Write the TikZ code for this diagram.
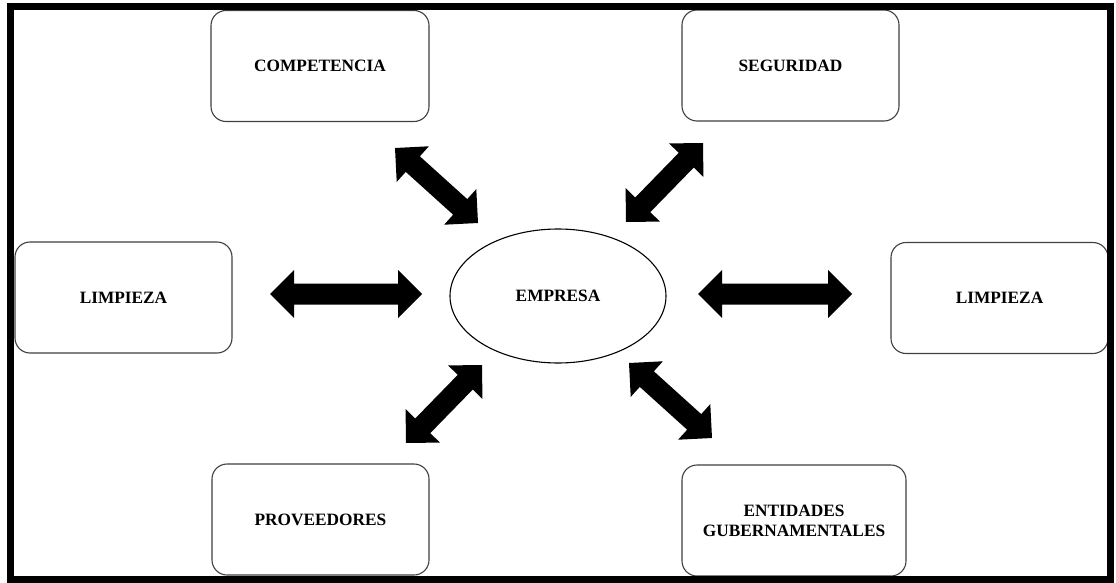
\documentclass[tikz,border=0pt]{standalone}
\usepackage{fontspec}
\setmainfont{Liberation Serif}
\usetikzlibrary{calc,shapes.geometric}

% Filled double-headed block arrow between two named coordinates
\newcommand{\blockarrow}[2]{%
  \coordinate (hA) at ($(#1)!24pt!(#2)$);
  \coordinate (hB) at ($(#2)!24pt!(#1)$);
  \fill[black]
    (#1) -- ($(hA)!24pt!90:(#2)$) -- ($(hA)!10.5pt!90:(#2)$)
    -- ($(hB)!10.5pt!-90:(#1)$) -- ($(hB)!24pt!-90:(#1)$)
    -- (#2) -- ($(hB)!24pt!90:(#1)$) -- ($(hB)!10.5pt!90:(#1)$)
    -- ($(hA)!10.5pt!-90:(#2)$) -- ($(hA)!24pt!-90:(#2)$) -- cycle;
}

\begin{document}
\begin{tikzpicture}[x=1pt,y=-1pt,
  font=\fontsize{17.3}{20}\selectfont\bfseries,
  actor/.style={draw=black!75, line width=1.1pt, rounded corners=15pt,
    fill=white, minimum height=111pt, inner sep=0pt, align=center},
  core/.style={ellipse, draw=black, line width=1.1pt, minimum width=216pt,
    minimum height=134pt, inner sep=0pt},
  frame/.style={draw=black, line width=7pt}]

\useasboundingbox (0,0) rectangle (1116,583);
\fill[white] (0,0) rectangle (1116,583);

% Central ellipse
\node[core] (emp) at (558,296) {EMPRESA};

% Surrounding boxes
\node[actor, minimum width=218pt] (comp) at (320,66) {COMPETENCIA};
\node[actor, minimum width=217pt] (seg)  at (790.5,65.5) {SEGURIDAD};
\node[actor, minimum width=217pt] (limL) at (123.5,297.5) {LIMPIEZA};
\node[actor, minimum width=217pt] (limR) at (999.5,298) {LIMPIEZA};
\node[actor, minimum width=217pt] (prov) at (320.5,519.5) {PROVEEDORES};
\node[actor, minimum width=224pt] (ent)  at (794,520.5) {ENTIDADES\\GUBERNAMENTALES};

% Arrow end points
\coordinate (l1) at (270,294);  \coordinate (l2) at (422,294);
\coordinate (r1) at (698,294);  \coordinate (r2) at (852,294);
\coordinate (c1) at (395,148);  \coordinate (c2) at (478,223);
\coordinate (s1) at (703,143);  \coordinate (s2) at (626,222);
\coordinate (p1) at (482,365);  \coordinate (p2) at (406,443);
\coordinate (e1) at (629,363);  \coordinate (e2) at (712,438);

\blockarrow{l1}{l2}
\blockarrow{r1}{r2}
\blockarrow{c1}{c2}
\blockarrow{s1}{s2}
\blockarrow{p1}{p2}
\blockarrow{e1}{e2}

% Outer frame
\draw[frame] (10.5,6.5) rectangle (1110.5,579.5);
\end{tikzpicture}
\end{document}
